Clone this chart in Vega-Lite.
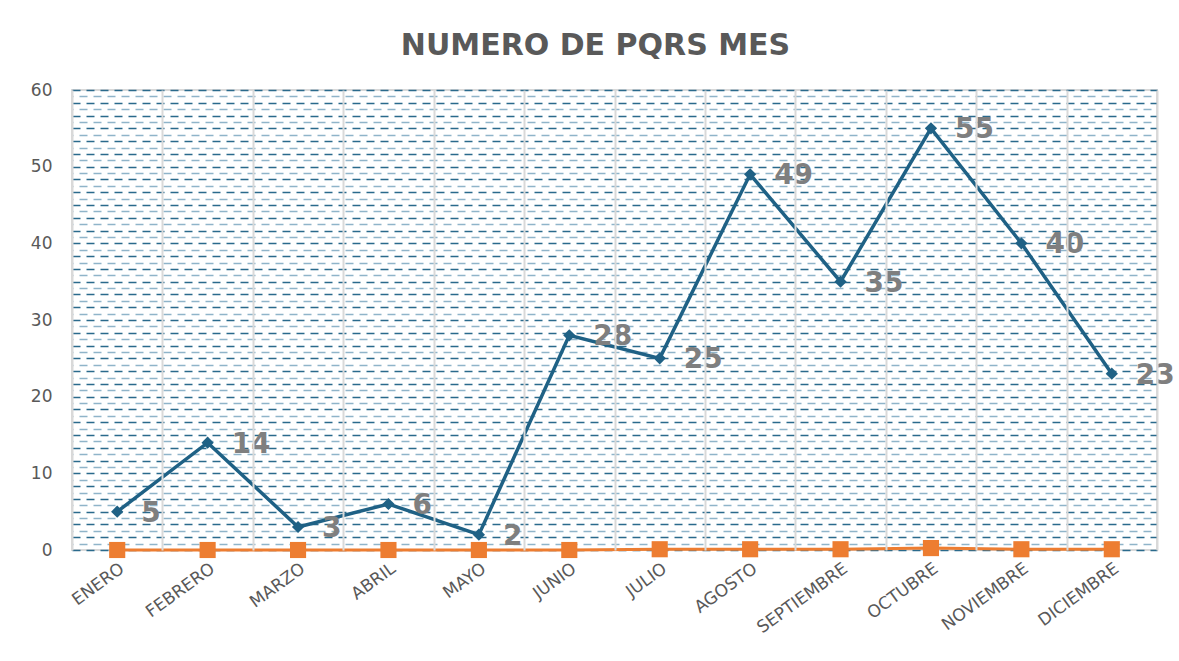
{
  "$schema": "https://vega.github.io/schema/vega-lite/v6.json",
  "width": 1085,
  "height": 460,
  "autosize": {"type": "none"},
  "padding": {"left": 72, "top": 90, "right": 22, "bottom": 111},
  "background": "white",
  "title": {
    "text": "NUMERO DE PQRS MES",
    "fontSize": 30,
    "fontWeight": "bold",
    "font": "DejaVu Sans",
    "color": "#595959",
    "anchor": "middle",
    "dx": -19,
    "offset": 20
  },
  "config": {
    "view": {"stroke": "#d9d9d9", "strokeWidth": 2, "fill": "white"},
    "font": "DejaVu Sans"
  },
  "data": {
    "values": [
      {"mes": "ENERO", "pqrs": 5, "serie2": 0},
      {"mes": "FEBRERO", "pqrs": 14, "serie2": 0},
      {"mes": "MARZO", "pqrs": 3, "serie2": 0},
      {"mes": "ABRIL", "pqrs": 6, "serie2": 0},
      {"mes": "MAYO", "pqrs": 2, "serie2": 0},
      {"mes": "JUNIO", "pqrs": 28, "serie2": 0},
      {"mes": "JULIO", "pqrs": 25, "serie2": 0.1},
      {"mes": "AGOSTO", "pqrs": 49, "serie2": 0.1},
      {"mes": "SEPTIEMBRE", "pqrs": 35, "serie2": 0.1},
      {"mes": "OCTUBRE", "pqrs": 55, "serie2": 0.25},
      {"mes": "NOVIEMBRE", "pqrs": 40, "serie2": 0.1},
      {"mes": "DICIEMBRE", "pqrs": 23, "serie2": 0.1}
    ]
  },
  "resolve": {"axis": {"y": "independent"}},
  "encoding": {
    "x": {
      "field": "mes",
      "type": "nominal",
      "sort": null,
      "scale": {"type": "band", "paddingInner": 0, "paddingOuter": 0},
      "axis": {
        "title": null,
        "zindex": 1,
        "labelAngle": -36,
        "labelAlign": "right",
        "labelBaseline": "top",
        "labelFontSize": 17,
        "labelColor": "#595959",
        "labelPadding": 10,
        "ticks": false,
        "tickSize": 0,
        "domain": false,
        "grid": true,
        "tickBand": "extent",
        "gridColor": "#d9d9d9",
        "gridWidth": 2
      }
    }
  },
  "layer": [
    {
      "mark": {"type": "line", "color": "#1f6185", "strokeWidth": 3.5, "point": {"shape": "diamond", "size": 150, "filled": true, "color": "#1f6185"}},
      "encoding": {
        "y": {
          "field": "pqrs",
          "type": "quantitative",
          "scale": {"domain": [0, 60], "nice": false},
          "axis": {
            "title": null,
            "values": [0,0.8333,1.6667,2.5,3.3333,4.1667,5,5.8333,6.6667,7.5,8.3333,9.1667,10,10.8333,11.6667,12.5,13.3333,14.1667,15,15.8333,16.6667,17.5,18.3333,19.1667,20,20.8333,21.6667,22.5,23.3333,24.1667,25,25.8333,26.6667,27.5,28.3333,29.1667,30,30.8333,31.6667,32.5,33.3333,34.1667,35,35.8333,36.6667,37.5,38.3333,39.1667,40,40.8333,41.6667,42.5,43.3333,44.1667,45,45.8333,46.6667,47.5,48.3333,49.1667,50,50.8333,51.6667,52.5,53.3333,54.1667,55,55.8333,56.6667,57.5,58.3333,59.1667,60],
            "labelExpr": "datum.value % 10 === 0 ? datum.value : ''",
            "labelOverlap": false,
            "labelFlush": false,
            "labelFontSize": 17,
            "labelColor": "#595959",
            "labelPadding": 20,
            "ticks": false,
            "tickSize": 0,
            "domain": false,
            "grid": true,
            "gridColor": {"condition": {"test": "round(datum.value*1.2) % 2 === 0", "value": "#2a6a8c"}, "value": "#8fb4c9"},
            "gridWidth": {"condition": {"test": "round(datum.value*1.2) % 2 === 0", "value": 1.6}, "value": 1.3},
            "gridDash": [8, 6],
            "gridDashOffset": {"condition": {"test": "round(datum.value*1.2) % 2 === 0", "value": 0}, "value": 7}
          }
        }
      }
    },
    {
      "mark": {"type": "text", "align": "left", "baseline": "middle", "dx": 24, "dy": 2, "fontSize": 28, "fontWeight": "bold", "color": "#7f7f7f"},
      "encoding": {
        "y": {"field": "pqrs", "type": "quantitative", "axis": null},
        "text": {"field": "pqrs", "type": "quantitative"}
      }
    },
    {
      "mark": {"type": "line", "color": "#ed7d31", "strokeWidth": 3, "point": {"shape": "square", "size": 260, "filled": true, "color": "#ed7d31"}},
      "encoding": {
        "y": {"field": "serie2", "type": "quantitative", "axis": null}
      }
    }
  ]
}
